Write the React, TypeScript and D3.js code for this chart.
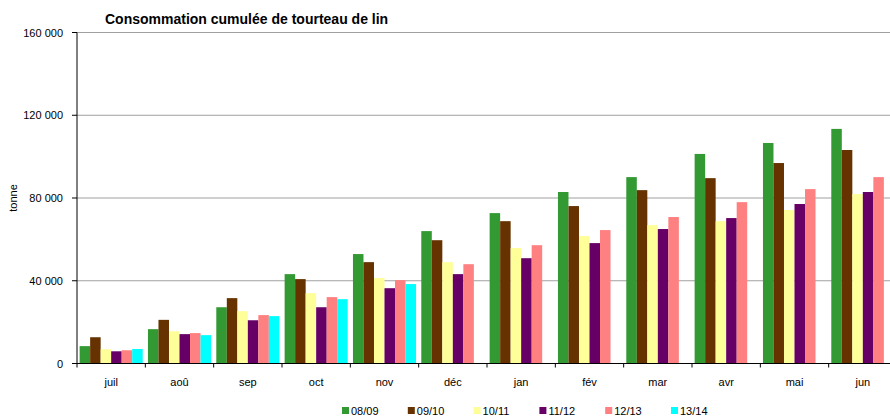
import React from 'react'
import * as d3 from 'd3'

const months = ['juil', 'aoû', 'sep', 'oct', 'nov', 'déc', 'jan', 'fév', 'mar', 'avr', 'mai', 'jun']
const seasons = ['08/09', '09/10', '10/11', '11/12', '12/13', '13/14']
const colors = ['#339933', '#663300', '#FFFF99', '#660066', '#FF8080', '#00FFFF']

const s0809 = [8400, 16600, 27200, 43200, 52900, 64000, 72700, 82900, 90100, 101300, 106600, 113400]
const s0910 = [12700, 21100, 31600, 40800, 49000, 59600, 68800, 76100, 83800, 89600, 96900, 103200]
const s1011 = [6900, 15600, 25300, 34000, 41300, 49000, 55800, 61600, 66900, 68800, 74200, 81900]
const s1112 = [5900, 14200, 20900, 27200, 36400, 43200, 50900, 58200, 65000, 70300, 77100, 82900]
const s1213 = [6400, 14700, 23400, 32100, 40300, 48000, 57200, 64500, 70800, 78000, 84300, 90100]
const s1314 = [7000, 13700, 22900, 31100, 38400, null, null, null, null, null, null, null]
const seriesValues = [s0809, s0910, s1011, s1112, s1213, s1314]

const yTicks = [0, 40000, 80000, 120000, 160000]

export default function App() {
  const W = 890
  const H = 419
  const left = 77
  const x0 = d3.scaleBand<string>().domain(months).range([left, 897]).padding(0)
  const x1 = d3.scaleBand<string>().domain(seasons).range([0, x0.bandwidth()]).paddingInner(0).paddingOuter(0.25)
  const y = d3.scaleLinear().domain([0, 160000]).range([363.5, 32.5])
  const fmt = (v: number) => d3.format(',')(v).replace(/,/g, ' ')
  const font = 'Liberation Sans, Arial, sans-serif'

  return (
    <svg width={W} height={H} style={{ position: 'absolute', left: 0, top: 0, background: '#fff' }} fontFamily={font}>
      <text x={105} y={24} fontSize={14} fontWeight="bold" fill="#000">Consommation cumulée de tourteau de lin</text>
      {yTicks.filter(t => t > 0).map(t => (
        <line key={'g' + t} x1={left} x2={W} y1={y(t)} y2={y(t)} stroke="#a0a0a0" strokeWidth={1} />
      ))}
      {seriesValues.map((vals, si) =>
        vals.map((v, mi) => v == null ? null : (
          <rect key={si + '-' + mi}
            x={(x0(months[mi]) as number) + (x1(seasons[si]) as number)}
            y={y(v)}
            width={x1.bandwidth()}
            height={y(0) - y(v)}
            fill={colors[si]} />
        ))
      )}
      <line x1={left} x2={left} y1={y(160000)} y2={y(0)} stroke="#000" />
      {yTicks.map(t => (
        <g key={'t' + t}>
          <line x1={left - 5} x2={left} y1={y(t)} y2={y(t)} stroke="#000" />
          <text x={left - 14} y={y(t) + 4} fontSize={11} textAnchor="end" fill="#000">{fmt(t)}</text>
        </g>
      ))}
      <line x1={left} x2={W} y1={y(0)} y2={y(0)} stroke="#000" />
      {months.map(m => (
        <g key={m}>
          <line x1={x0(m) as number} x2={x0(m) as number} y1={y(0)} y2={y(0) + 4} stroke="#000" />
          <text x={(x0(m) as number) + x0.bandwidth() / 2} y={386} fontSize={11} textAnchor="middle" fill="#000">{m}</text>
        </g>
      ))}
      <text transform={`translate(17,${y(80000)}) rotate(-90)`} fontSize={11} textAnchor="middle" fill="#000">tonne</text>
      {seasons.map((s, i) => (
        <g key={s} transform={`translate(${342 + i * 65.8},407)`}>
          <rect x={0} y={0} width={7} height={7} fill={colors[i]} />
          <text x={9} y={7.5} fontSize={11} fill="#000">{s}</text>
        </g>
      ))}
    </svg>
  )
}
